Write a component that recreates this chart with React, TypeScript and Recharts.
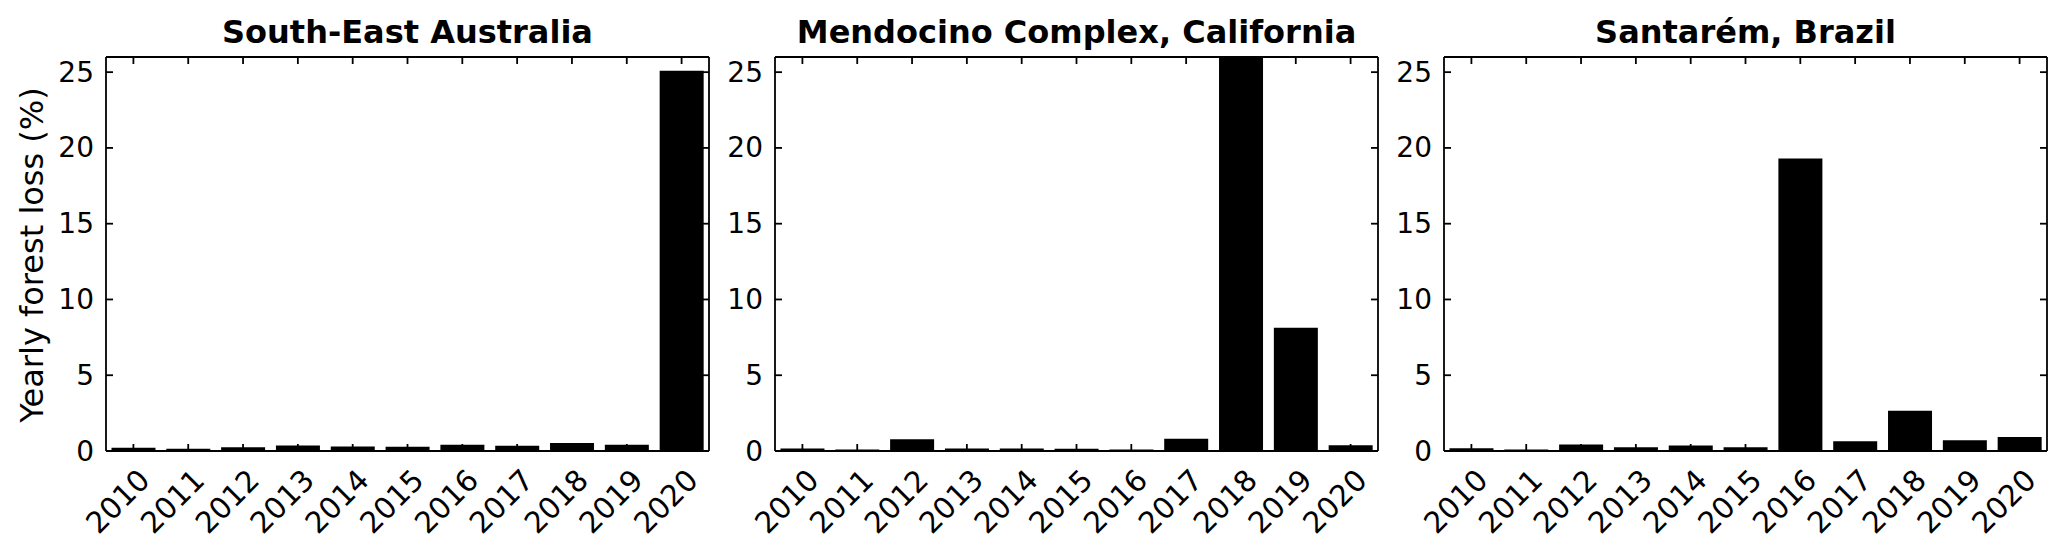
import React from "react";
import { BarChart, Bar, XAxis, YAxis } from "recharts";

// yearly forest loss (%) per region
const years = ["2010", "2011", "2012", "2013", "2014", "2015", "2016", "2017", "2018", "2019", "2020"];
const seAustralia = [0.22, 0.15, 0.24, 0.36, 0.3, 0.28, 0.41, 0.34, 0.52, 0.41, 25.1];
const mendocino = [0.17, 0.1, 0.77, 0.17, 0.16, 0.15, 0.1, 0.81, 30.5, 8.14, 0.38];
const santarem = [0.18, 0.1, 0.43, 0.24, 0.36, 0.25, 19.3, 0.64, 2.65, 0.71, 0.92];
const panelTitles = ["South-East Australia", "Mendocino Complex, California", "Santarém, Brazil"];
const yTicks = [0, 5, 10, 15, 20, 25];
const yLabel = "Yearly forest loss (%)";

const FONT = "'DejaVu Sans', sans-serif";
const LINE = "#000";
const LW = 1.8;
const TICK_LEN = 7;

const panels = [seAustralia, mendocino, santarem].map((vals) =>
  years.map((year, i) => ({ year, loss: vals[i] }))
);

function LeftTick(props: any) {
  const { x, y, payload } = props;
  return (
    <g>
      <line x1={x} y1={y} x2={x + TICK_LEN} y2={y} stroke={LINE} strokeWidth={LW} />
      <text x={x - 12} y={y} textAnchor="end" dominantBaseline="central" fontSize={28} fontFamily={FONT} fill="#000">
        {payload.value}
      </text>
    </g>
  );
}

function RightTick(props: any) {
  const { x, y } = props;
  return <line x1={x - TICK_LEN} y1={y} x2={x} y2={y} stroke={LINE} strokeWidth={LW} />;
}

function TopTick(props: any) {
  const { x, y } = props;
  return <line x1={x} y1={y} x2={x} y2={y + TICK_LEN} stroke={LINE} strokeWidth={LW} />;
}

function BottomTick(props: any) {
  const { x, y, payload } = props;
  const ax = x + 11;
  const ay = y + 24;
  return (
    <g>
      <line x1={x} y1={y} x2={x} y2={y - TICK_LEN} stroke={LINE} strokeWidth={LW} />
      <text
        x={ax}
        y={ay}
        textAnchor="end"
        dominantBaseline="central"
        transform={`rotate(-45, ${ax}, ${ay})`}
        fontSize={29.5}
        fontFamily={FONT}
        fill="#000"
      >
        {payload.value}
      </text>
    </g>
  );
}

function Panel({ rows }: { rows: any[] }) {
  return (
    <BarChart
      width={720}
      height={551}
      data={rows}
      margin={{ top: 47, right: 1, bottom: 10, left: 46 }}
      barCategoryGap="10%"
    >
      <XAxis
        xAxisId="b"
        dataKey="year"
        orientation="bottom"
        height={90}
        interval={0}
        tickSize={0}
        tickMargin={0}
        tickLine={false}
        axisLine={{ stroke: LINE, strokeWidth: LW }}
        tick={<BottomTick />}
      />
      <XAxis
        xAxisId="t"
        dataKey="year"
        orientation="top"
        height={10}
        interval={0}
        tickSize={0}
        tickMargin={0}
        tickLine={false}
        axisLine={{ stroke: LINE, strokeWidth: LW }}
        tick={<TopTick />}
      />
      <YAxis
        yAxisId="l"
        orientation="left"
        width={60}
        domain={[0, 26]}
        ticks={yTicks}
        allowDataOverflow
        tickSize={0}
        tickMargin={0}
        tickLine={false}
        axisLine={{ stroke: LINE, strokeWidth: LW }}
        tick={<LeftTick />}
      />
      <YAxis
        yAxisId="r"
        orientation="right"
        width={10}
        domain={[0, 26]}
        ticks={yTicks}
        allowDataOverflow
        tickSize={0}
        tickMargin={0}
        tickLine={false}
        axisLine={{ stroke: LINE, strokeWidth: LW }}
        tick={<RightTick />}
      />
      <Bar dataKey="loss" xAxisId="b" yAxisId="l" fill="#000" isAnimationActive={false} />
    </BarChart>
  );
}

export default function App() {
  return (
    <div style={{ position: "absolute", left: 0, top: 0, width: 2067, height: 551, background: "#fff", overflow: "hidden" }}>
      {panels.map((rows, i) => (
        <div key={i} style={{ position: "absolute", left: 669 * i, top: 0 }}>
          <Panel rows={rows} />
        </div>
      ))}
      <svg width={2067} height={551} style={{ position: "absolute", left: 0, top: 0, pointerEvents: "none" }}>
        {panelTitles.map((t, i) => (
          <text
            key={t}
            x={407.5 + 669 * i}
            y={43}
            textAnchor="middle"
            fontSize={32}
            fontWeight="bold"
            fontFamily={FONT}
            fill="#000"
          >
            {t}
          </text>
        ))}
        <text
          x={32}
          y={255}
          transform="rotate(-90, 32, 255)"
          textAnchor="middle"
          dominantBaseline="central"
          fontSize={32}
          fontFamily={FONT}
          fill="#000"
        >
          {yLabel}
        </text>
      </svg>
    </div>
  );
}
